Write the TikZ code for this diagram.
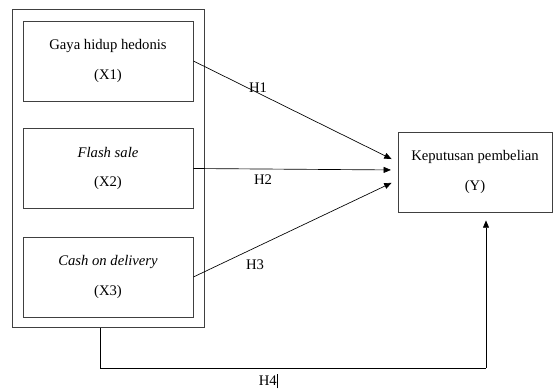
\documentclass[tikz,border=0pt]{standalone}
\usepackage{fontspec}
\setmainfont{Liberation Serif}
\usetikzlibrary{arrows.meta,calc}
\begin{document}
\begin{tikzpicture}[x=0.75pt, y=-0.75pt,
	varbox/.style={rectangle, draw=black!75, line width=0.6pt, minimum width=127.5pt, minimum height=60pt, align=center, font=\fontsize{11}{13}\selectfont},
	grpbox/.style={rectangle, draw=black!75, line width=0.6pt, minimum width=144pt, minimum height=238pt},
	hlabel/.style={font=\fontsize{11}{13}\selectfont, inner sep=0pt},
	arr/.style={-{Triangle[length=5.5pt,width=4.5pt]}, line width=0.5pt}]
	\useasboundingbox (0,0) rectangle (554,389);

	\node[grpbox] (grp) at (108, 168.5) {};

	\node[varbox] (x1) at (108, 61) {Gaya hidup hedonis\\[9pt](X1)};
	\node[varbox] (x2) at (108, 168.5) {\textit{Flash sale}\\[9pt](X2)};
	\node[varbox] (x3) at (108, 277) {\textit{Cash on delivery}\\[9pt](X3)};

	\node[varbox, minimum width=115.5pt] (y) at (475, 172) {Keputusan pembelian\\[9pt](Y)};

	\draw[arr, shorten >=5pt] (x1.east) -- ($(y.west)+(0,-10)$);
	\draw[arr, shorten >=5pt] (x2.east) -- ($(y.west)+(0,-2)$);
	\draw[arr, shorten >=5pt] (x3.east) -- ($(y.west)+(0,8)$);

	\coordinate (h4a) at (100, 368);
	\coordinate (h4b) at (486, 368);
	\draw (h4a |- grp.south) -- (h4a) -- (h4b);
	\draw[arr, shorten >=6pt] (h4b) -- (h4b |- y.south);

	\node[hlabel] (h1) at (258, 88) {H1};
	\node[hlabel] (h2) at (263, 180) {H2};
	\node[hlabel] (h3) at (255, 265) {H3};
	\node[hlabel] (h4) at (268, 381) {H4\rule[-2pt]{0.4pt}{11pt}};
\end{tikzpicture}
\end{document}
